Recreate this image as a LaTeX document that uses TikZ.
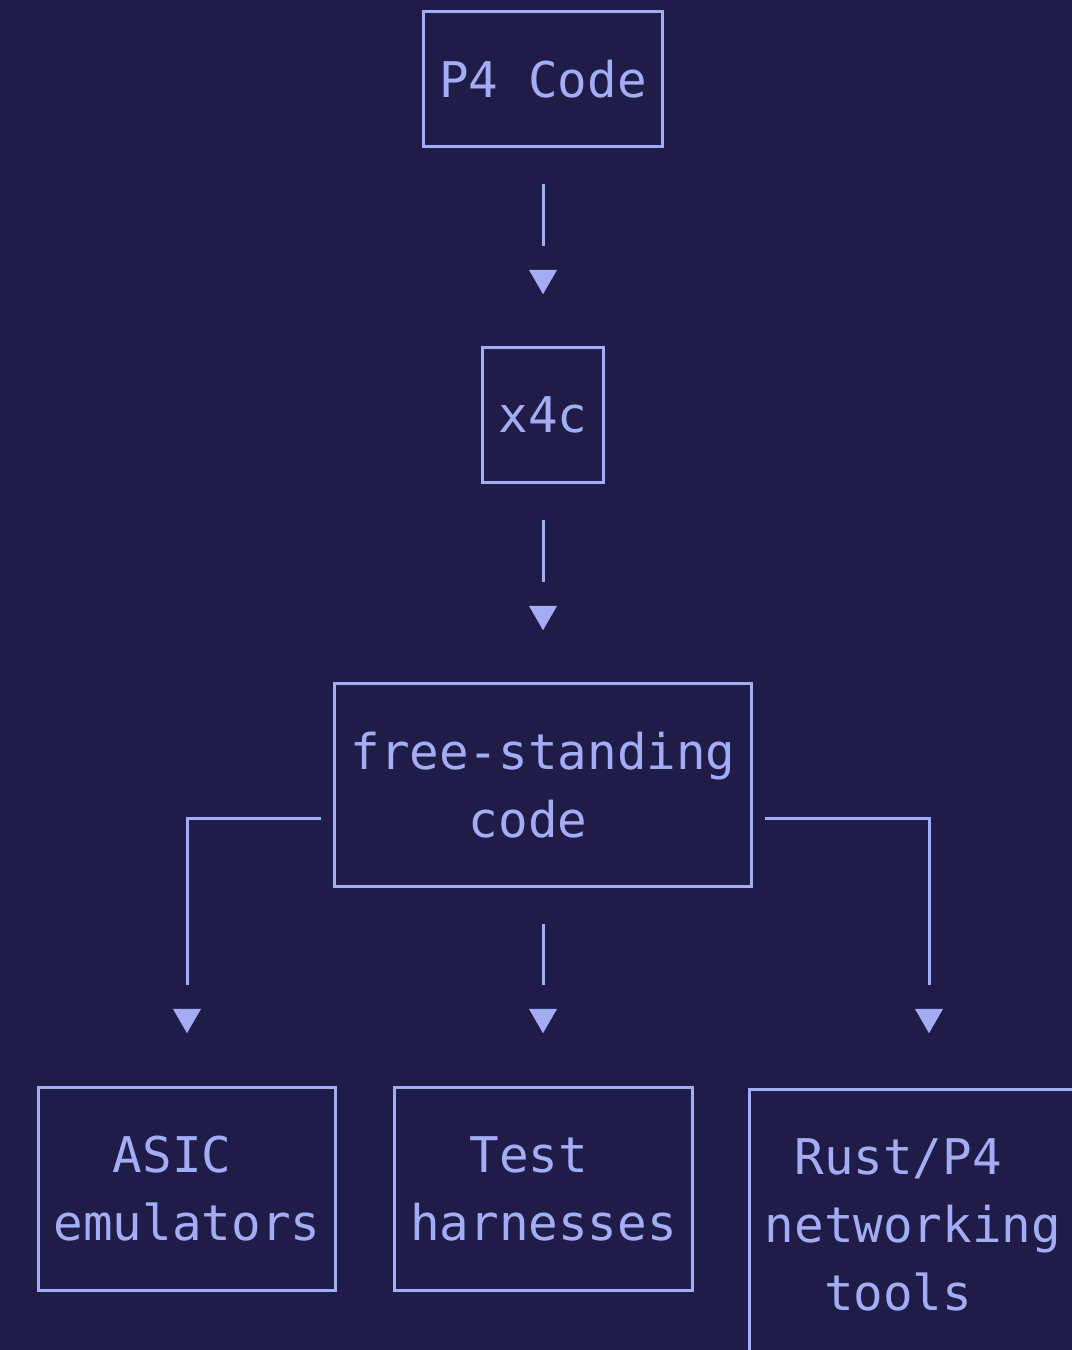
\documentclass[tikz,border=0pt]{standalone}
\usepackage{fontspec}
\setmonofont{DejaVu Sans Mono}
\usetikzlibrary{shapes.geometric}

\definecolor{bgnavy}{RGB}{31,28,72}
\definecolor{lilac}{RGB}{163,172,245}

\begin{document}
\begin{tikzpicture}[x=0.025cm, y=-0.025cm,
    box/.style={draw=lilac, line width=0.075cm, text=lilac, align=center,
      font=\ttfamily\fontsize{35}{48.4}\selectfont, inner xsep=0.39cm, inner ysep=0},
    head/.style={regular polygon, regular polygon sides=3, shape border rotate=180,
      fill=lilac, minimum size=0.81cm, inner sep=0},
    wire/.style={draw=lilac, line width=0.075cm}]
  \useasboundingbox (0,0) rectangle (1072,1350);
  \clip (0,0) rectangle (1072,1350);
  \fill[bgnavy] (0,0) rectangle (1072,1350);

  \node[box, minimum height=3.35cm] (p4) at (543,79) {P4 Code};
  \node[box, minimum height=3.35cm] (x4c) at (543,415) {x4c};
  \node[box, minimum height=5.05cm] (fsc) at (543,785) {free-standing\\code\phantom{x}};
  \node[box, minimum height=5.05cm] (asic) at (187,1189) {ASIC\phantom{x}\\emulators};
  \node[box, minimum height=5.05cm] (test) at (543.5,1189) {Test\phantom{x}\\harnesses};
  \node[box, minimum height=6.75cm, anchor=north] (rust) at (913,1088)
    {Rust/P4\phantom{x}\\networking\\tools\phantom{x}};

  \node[head] (h1) at (543,278) {};
  \node[head] (h2) at (543,614) {};
  \node[head] (h3) at (187,1017) {};
  \node[head] (h4) at (543,1017) {};
  \node[head] (h5) at (929,1017) {};

  \draw[wire, shorten <=0.9cm, shorten >=0.6cm] (p4) -- (h1);
  \draw[wire, shorten <=0.9cm, shorten >=0.6cm] (x4c) -- (h2);
  \draw[wire, shorten <=0.9cm, shorten >=0.6cm] (fsc) -- (h4);
  \draw[wire, shorten <=0.3cm, shorten >=0.6cm] ([yshift=-0.825cm]fsc.west) -| (h3);
  \draw[wire, shorten <=0.3cm, shorten >=0.6cm] ([yshift=-0.825cm]fsc.east) -| (h5);
\end{tikzpicture}
\end{document}
